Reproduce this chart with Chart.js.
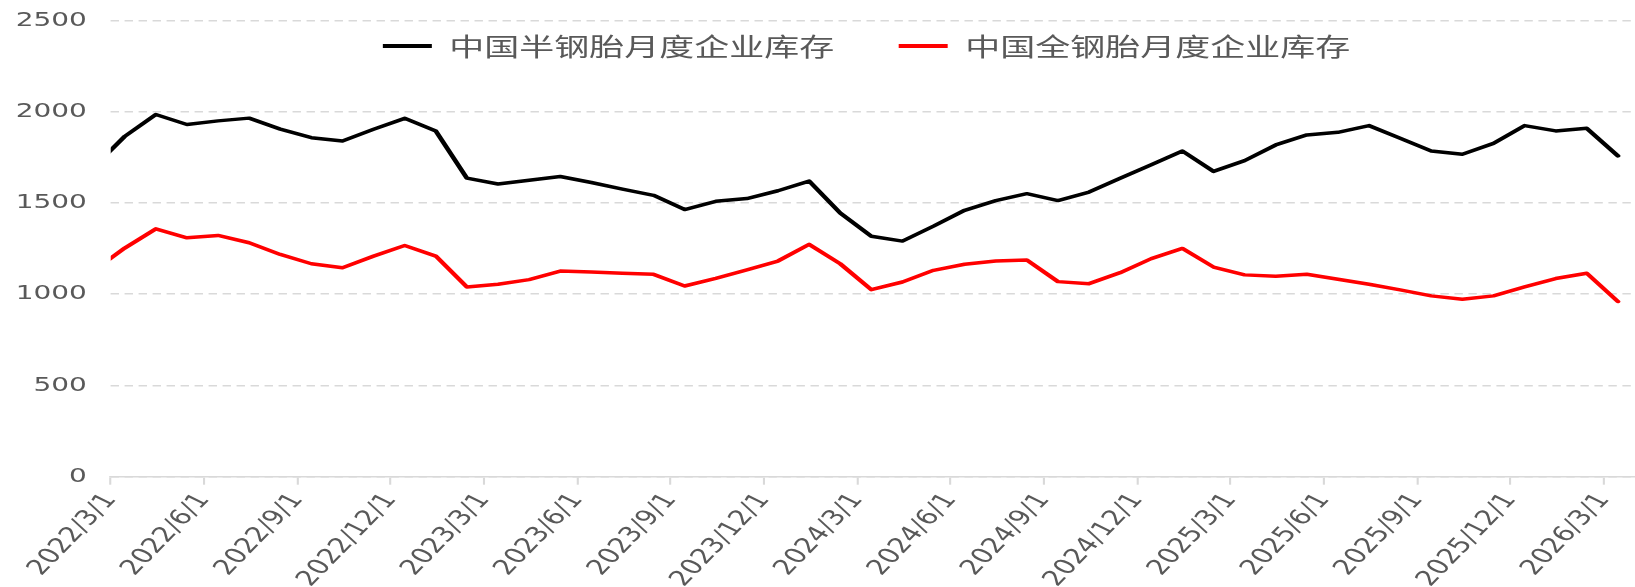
<!DOCTYPE html>
<html><head><meta charset="utf-8">
<script src="https://cdn.jsdelivr.net/npm/chart.js@4.4.1/dist/chart.umd.min.js"></script>
<style>html,body{margin:0;padding:0;background:#fff;overflow:hidden}#c{display:block}</style>
</head><body>
<canvas id="c" width="1168" height="587"></canvas>
<script>
// ---- data (2022/2 is only partly visible: clipped at the left edge) ----
const months = [
 '2022/2','2022/3','2022/4','2022/5','2022/6','2022/7','2022/8','2022/9','2022/10','2022/11','2022/12',
 '2023/1','2023/2','2023/3','2023/4','2023/5','2023/6','2023/7','2023/8','2023/9','2023/10','2023/11','2023/12',
 '2024/1','2024/2','2024/3','2024/4','2024/5','2024/6','2024/7','2024/8','2024/9','2024/10','2024/11','2024/12',
 '2025/1','2025/2','2025/3','2025/4','2025/5','2025/6','2025/7','2025/8','2025/9','2025/10','2025/11','2025/12',
 '2026/1','2026/2','2026/3'
];
const semiSteelStock = [
 1695,1865,1985,1930,1950,1965,1905,1858,1840,1904,1964,
 1895,1636,1604,1625,1645,1612,1576,1542,1464,1509,1524,1567,
 1620,1445,1318,1291,1373,1460,1513,1551,1513,1560,1636,1709,
 1785,1673,1732,1818,1873,1887,1924,1855,1785,1767,1827,1924,
 1895,1909,1758
];
const allSteelStock = [
 1128,1253,1358,1309,1322,1282,1218,1167,1145,1209,1267,
 1209,1040,1055,1080,1127,1122,1115,1109,1045,1087,1133,1182,
 1273,1167,1025,1067,1131,1164,1182,1187,1069,1058,1118,1195,
 1251,1149,1106,1098,1109,1082,1055,1024,991,973,991,1040,
 1086,1115,960
];
const tickLabels = [
 '2022/3/1','2022/6/1','2022/9/1','2022/12/1','2023/3/1','2023/6/1','2023/9/1','2023/12/1',
 '2024/3/1','2024/6/1','2024/9/1','2024/12/1','2025/3/1','2025/6/1','2025/9/1','2025/12/1','2026/3/1'
];
const seriesNames = ['中国半钢胎月度企业库存','中国全钢胎月度企业库存'];
const yTicks = [0,500,1000,1500,2000,2500];

// ---- helpers ----
const FULL_W = 1635, W = 1168, H = 587, SX = FULL_W / W;
function monthPos(s){ const p = s.split('/').map(Number); return (p[0]-2022)*12 + (p[1]-3); }
const MID = 0.45; // monthly values sit mid-month
const pts = arr => arr.map((v,i)=>({x: monthPos(months[i]) + MID, y: v}));
const tickVals = tickLabels.map(monthPos);

const legendPos = {
  id:'legendPos',
  afterLayout(chart){
    const lg = chart.legend; if(!lg) return;
    lg.left = 70; lg.right = W; lg.width = lg.right - lg.left;
    lg.top = -12.5; lg.bottom = 90; lg.height = lg.bottom - lg.top;
  }
};

const canvas = document.getElementById('c');
const chart = new Chart(canvas, {
  type:'line',
  data:{ datasets:[
    {label:seriesNames[0], data:pts(semiSteelStock), borderColor:'#000000', backgroundColor:'#000000',
     borderWidth:3.5, pointRadius:0, tension:0, borderJoinStyle:'round', borderCapStyle:'round'},
    {label:seriesNames[1], data:pts(allSteelStock), borderColor:'#ff0000', backgroundColor:'#ff0000',
     borderWidth:3.5, pointRadius:0, tension:0, borderJoinStyle:'round', borderCapStyle:'round'}
  ]},
  options:{
    responsive:false, animation:false, devicePixelRatio:1, events:[],
    layout:{padding:{top:20.5,left:0,right:0,bottom:0}},
    plugins:{
      tooltip:{enabled:false},
      legend:{
        position:'top', maxHeight:0.001,
        labels:{
          font:{family:"'Noto Sans CJK SC', sans-serif", size:25}, color:'#595959',
          boxWidth:35, boxHeight:4, padding:46,
          generateLabels(c){ const it = Chart.defaults.plugins.legend.labels.generateLabels(c); it.forEach(i=>{i.lineWidth=0;}); return it; }
        }
      }
    },
    scales:{
      x:{
        type:'linear', min:0, max:49,
        afterBuildTicks(s){ s.ticks = tickVals.map(v=>({value:v})); },
        afterFit(s){ s.height = H - 476.7; s.paddingLeft = 0; s.paddingRight = 0; },
        ticks:{ autoSkip:false, maxRotation:55, minRotation:55, padding:4, color:'#595959',
          font:{family:"'DejaVu Sans', sans-serif", size:21},
          callback:(v)=>{ const i = tickVals.indexOf(v); return i>=0 ? tickLabels[i] : ''; } },
        grid:{ drawOnChartArea:false, drawTicks:true, tickLength:8, color:'#d9d9d9', lineWidth:1.5 },
        border:{ display:true, color:'#d9d9d9', width:1.5 }
      },
      y:{
        min:0, max:2500,
        afterBuildTicks(s){ s.ticks = yTicks.map(v=>({value:v})); },
        afterFit(s){ s.width = 79.1; s.paddingTop = 0; s.paddingBottom = 0; },
        ticks:{ padding:17, color:'#595959', font:{family:"'DejaVu Sans', sans-serif", size:20},
          callback:(v)=>String(v) },
        grid:{ color:'#d9d9d9', lineWidth:1.5, drawTicks:false },
        border:{ display:false, dash:[6,4] }
      }
    }
  },
  plugins:[legendPos]
});

// the reference is stretched horizontally: redraw on a wider bitmap with a horizontal scale
canvas.width = FULL_W; canvas.height = H;
canvas.style.width = FULL_W + 'px'; canvas.style.height = H + 'px';
chart.ctx.setTransform(SX,0,0,1,0,0);
chart.draw();
</script>
</body></html>
